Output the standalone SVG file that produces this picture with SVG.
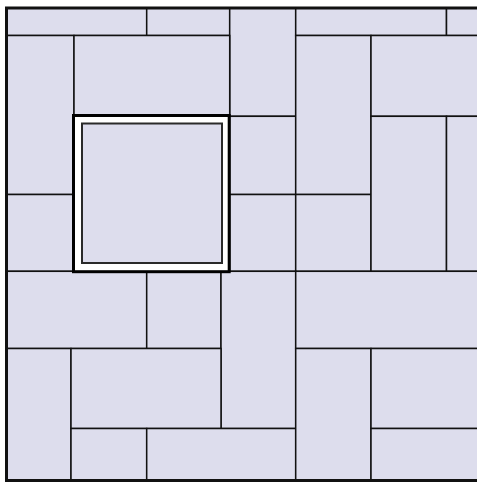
<svg xmlns="http://www.w3.org/2000/svg" width="477" height="484" viewBox="0 0 477 484">
<style>
.t{fill:#dddded;stroke:#111;stroke-width:1.5}
.frame{fill:none;stroke:#111;stroke-width:3}
.sq-out{fill:#fff;stroke:#000;stroke-width:3}
.sq-in{fill:#dddded;stroke:#2a2a2a;stroke-width:2}
</style>
<rect x="0" y="0" width="477" height="484" fill="#fff"/>
<g id="tiles">
<g id="t1"><rect class="t" x="6.5" y="8" width="140.2" height="27.5"/></g>
<g id="t2"><rect class="t" x="146.7" y="8" width="83" height="27.5"/></g>
<g id="t3"><rect class="t" x="229.7" y="8" width="66" height="108.3"/></g>
<g id="t4"><rect class="t" x="295.7" y="8" width="150.8" height="27.5"/></g>
<g id="t5"><rect class="t" x="446.5" y="8" width="36" height="27.5"/></g>
<g id="t6"><rect class="t" x="6.5" y="35.5" width="67.5" height="159"/></g>
<g id="t7"><rect class="t" x="74" y="35.5" width="155.7" height="80.5"/></g>
<g id="t9"><rect class="t" x="6.5" y="194.5" width="67.5" height="76.8"/></g>
<g id="t10"><rect class="t" x="229.7" y="116.3" width="66" height="78.2"/></g>
<g id="t11"><rect class="t" x="229.7" y="194.5" width="66" height="76.8"/></g>
<g id="t12"><rect class="t" x="295.7" y="35.5" width="75.3" height="159"/></g>
<g id="t13"><rect class="t" x="371" y="35.5" width="111.5" height="80.8"/></g>
<g id="t14"><rect class="t" x="295.7" y="194.5" width="75.3" height="76.8"/></g>
<g id="t15"><rect class="t" x="371" y="116.3" width="75.5" height="155"/></g>
<g id="t16"><rect class="t" x="446.5" y="116.3" width="36" height="155"/></g>
<g id="t17"><rect class="t" x="6.5" y="271.3" width="140.2" height="77.2"/></g>
<g id="t18"><rect class="t" x="146.7" y="271.3" width="74.3" height="77.2"/></g>
<g id="t19"><rect class="t" x="221" y="271.3" width="74.7" height="157.2"/></g>
<g id="t20"><rect class="t" x="295.7" y="271.3" width="186.8" height="77.2"/></g>
<g id="t21"><rect class="t" x="6.5" y="348.5" width="64.5" height="132"/></g>
<g id="t22"><rect class="t" x="71" y="348.5" width="150" height="80"/></g>
<g id="t23"><rect class="t" x="71" y="428.5" width="75.7" height="52"/></g>
<g id="t24"><rect class="t" x="146.7" y="428.5" width="149" height="52"/></g>
<g id="t25"><rect class="t" x="295.7" y="348.5" width="75.3" height="132"/></g>
<g id="t26"><rect class="t" x="371" y="348.5" width="111.5" height="80"/></g>
<g id="t27"><rect class="t" x="371" y="428.5" width="111.5" height="52"/></g>
</g>
<g id="square">
<rect class="sq-out" x="73.5" y="115.5" width="155.7" height="156.2"/>
<rect class="sq-in" x="82" y="123.5" width="140" height="139.5"/>
</g>
<g id="connectors"></g>
<rect class="frame" x="6.5" y="8" width="476" height="472.5"/>
</svg>
